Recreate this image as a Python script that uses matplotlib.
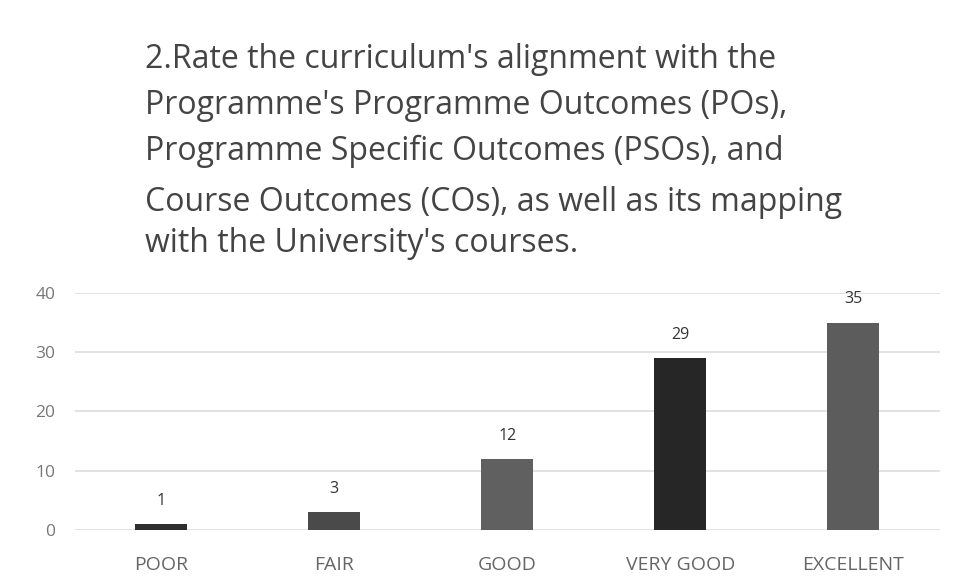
import matplotlib
matplotlib.use("Agg")
import matplotlib.pyplot as plt

categories = ["POOR", "FAIR", "GOOD", "VERY GOOD", "EXCELLENT"]
values = [1, 3, 12, 29, 35]
bar_colors = ["#2e2e2e", "#4a4a4a", "#606060", "#262626", "#5c5c5c"]
title_lines = ["2.Rate the curriculum's alignment with the",
               "Programme's Programme Outcomes (POs),",
               "Programme Specific Outcomes (PSOs), and",
               "Course Outcomes (COs), as well as its mapping",
               "with the University's courses."]
title_baselines_px = [68, 114, 160, 211, 252]
yticks = [0, 10, 20, 30, 40]

fig = plt.figure(figsize=(9.57, 5.87), dpi=100)
ax = fig.add_axes([0.078, 0.097, 0.904, 0.404])
x = range(len(categories))
ax.bar(x, values, width=0.3, color=bar_colors, zorder=3)
for xi, v in zip(x, values):
    ax.annotate(str(v), (xi, v), xytext=(0, 11), textcoords="offset points",
                ha="center", va="bottom", fontsize=11.5, color="#333333",
                family="Open Sans")
ax.set_xlim(-0.5, len(categories) - 0.5)
ax.set_ylim(0, 40)
ax.set_yticks(yticks)
ax.set_yticklabels([str(t) for t in yticks], fontsize=12.5, color="#777777", family="Open Sans")
ax.set_xticks(list(x))
ax.set_xticklabels(categories, fontsize=14, color="#666666", family="Open Sans")
ax.tick_params(axis="both", length=0)
ax.tick_params(axis="y", pad=14)
ax.tick_params(axis="x", pad=19)
ax.grid(axis="y", color="#dddddd", linewidth=1.2, zorder=0)
for s in ax.spines.values():
    s.set_visible(False)

for line, yb in zip(title_lines, title_baselines_px):
    fig.text(145 / 957, 1 - yb / 587, line, ha="left", va="baseline", fontsize=23,
             color="#444444", family="Open Sans")

fig.savefig("out.png", dpi=100)
